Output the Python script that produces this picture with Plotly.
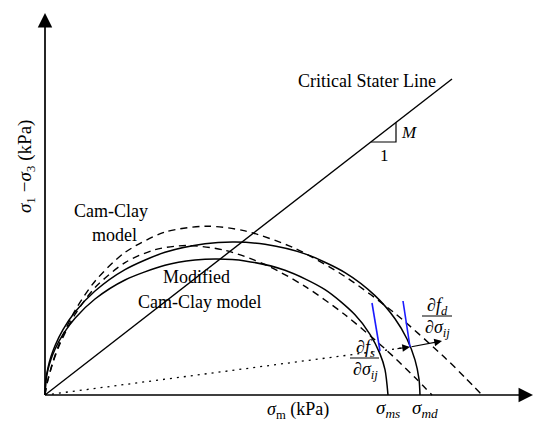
import plotly.graph_objects as go

# ---- data (mean stress p, deviator stress q) ----
# Modified Cam-Clay yield surface through sigma_md (outer, solid)
mcc_d_p = [0, 1, 3, 6, 10, 18, 30, 50, 80, 120, 160, 190, 220, 260, 300, 330, 350, 362, 370, 374, 375]
mcc_d_q = [0, 15.8, 27.3, 38.4, 49.3, 65.4, 83.0, 104.0, 125.4, 142.7, 151.3, 153.0, 150.7, 141.1, 122.4, 99.4, 76.3, 56.0, 35.1, 15.8, 0]
# Modified Cam-Clay yield surface through sigma_ms (inner, solid)
mcc_s_p = [0, 1, 3, 6, 10, 18, 30, 50, 80, 120, 150, 172, 200, 240, 280, 310, 325, 335, 340, 343]
mcc_s_q = [0, 14.7, 25.3, 35.7, 45.8, 60.7, 76.8, 96.0, 115.0, 129.7, 134.9, 136.0, 134.1, 124.7, 105.3, 80.2, 60.7, 41.1, 25.3, 0]
# Cam-Clay yield surfaces (dashed)
cc_d_p = [0, 1, 3, 8, 15, 30, 50, 80, 120, 161, 200, 250, 300, 350, 400, 420, 437]
cc_d_q = [0, 6.4, 15.7, 33.6, 53.1, 84.4, 113.8, 142.6, 162.9, 168.8, 164.1, 146.6, 118.5, 81.6, 37.2, 17.5, 0]
cc_s_p = [0, 1, 3, 8, 15, 30, 50, 80, 110, 142, 180, 220, 260, 300, 340, 370, 387]
cc_s_q = [0, 6.3, 15.3, 32.6, 51.2, 80.5, 107.4, 132.4, 145.3, 149.5, 144.7, 130.5, 108.6, 80.2, 46.2, 17.4, 0]
# Critical state line
csl_p = [0, 407]
csl_q = [0, 316]
# slope triangle
tri_p = [326, 351, 351]
tri_q = [253, 253, 272.5]
# stress points on the two surfaces and their normals
pt_s = [335, 44]
pt_d = [365, 48]
normal_s_p = [327, 335]
normal_s_q = [92, 44]
normal_d_p = [358, 365]
normal_d_q = [94, 48]
grad_tip = [397, 54]
axis_x_end = 488
axis_y_end = 382

FONT = "Liberation Serif, Times New Roman, serif"

fig = go.Figure()


def line(x, y, dash="solid", width=1.5, color="black", shape="linear"):
    fig.add_trace(go.Scatter(x=x, y=y, mode="lines",
                             line=dict(color=color, width=width, dash=dash, shape=shape, smoothing=0.8),
                             hoverinfo="skip", showlegend=False))


line(mcc_d_p, mcc_d_q, shape="spline")
line(mcc_s_p, mcc_s_q, shape="spline")
line(cc_d_p, cc_d_q, dash="7px,5px", width=1.4, shape="spline")
line(cc_s_p, cc_s_q, dash="7px,5px", width=1.4, shape="spline")
line(csl_p, csl_q, width=1.4)
line(tri_p, tri_q, width=1.2)
line([0, pt_d[0]], [0, pt_d[1]], dash="2px,5px", width=1.3)
line(normal_s_p, normal_s_q, color="#1a1aff", width=1.6)
line(normal_d_p, normal_d_q, color="#1a1aff", width=1.6)

ann = []


def arrow(x0, y0, x1, y1, w=1.5, size=1.3):
    ann.append(dict(x=x1, y=y1, ax=x0, ay=y0, xref="x", yref="y", axref="x", ayref="y",
                    text="", showarrow=True, arrowhead=2, arrowsize=size, arrowwidth=w,
                    arrowcolor="black"))


arrow(0, 0, 0, axis_y_end, w=1.7, size=1.7)
arrow(0, 0, axis_x_end, 0, w=1.7, size=1.7)
arrow(pt_d[0] - 14, pt_d[1] - 1.8, pt_d[0], pt_d[1], w=1.1, size=1.4)
arrow(pt_d[0], pt_d[1], grad_tip[0], grad_tip[1], w=1.1, size=1.4)


def text(x, y, s, size=18, angle=0):
    ann.append(dict(x=x, y=y, xref="x", yref="y", text=s, showarrow=False,
                    font=dict(family=FONT, size=size, color="black"), textangle=angle,
                    xanchor="center", yanchor="middle"))


text(322, 314, "Critical Stater Line")
text(364, 263, "<i>M</i>", size=17)
text(339, 240, "1", size=17)
text(66, 184, "Cam-Clay")
text(69, 160, "model")
text(151, 118, "Modified")
text(154, 93, "Cam-Clay model")
text(253, -15, "<i>σ</i><sub>m</sub> (kPa)")
text(343, -14, "<i>σ</i><sub><i>ms</i></sub>", size=19)
text(380, -14, "<i>σ</i><sub><i>md</i></sub>", size=19)
text(-19, 228, "<i>σ</i><sub>1</sub> −<i>σ</i><sub>3</sub> (kPa)", size=19, angle=-90)
text(392, 89, "∂<i>f</i><sub><i>d</i></sub>", size=18)
text(392, 67, "∂<i>σ</i><sub><i>ij</i></sub>", size=18)
text(320, 47, "∂<i>f</i><sub><i>s</i></sub>", size=18)
text(320, 25, "∂<i>σ</i><sub><i>ij</i></sub>", size=18)

shapes = [
    dict(type="line", xref="x", yref="y", x0=377, x1=407, y0=79, y1=79, line=dict(color="black", width=1)),
    dict(type="line", xref="x", yref="y", x0=305, x1=334, y0=37, y1=37, line=dict(color="black", width=1)),
]

fig.update_layout(
    width=534, height=424,
    margin=dict(l=0, r=0, t=0, b=0),
    paper_bgcolor="white", plot_bgcolor="white",
    xaxis=dict(range=[-45, 489], visible=False, fixedrange=True),
    yaxis=dict(range=[-29, 395], visible=False, fixedrange=True),
    annotations=ann, shapes=shapes, showlegend=False,
)

fig.write_html("out.html")
